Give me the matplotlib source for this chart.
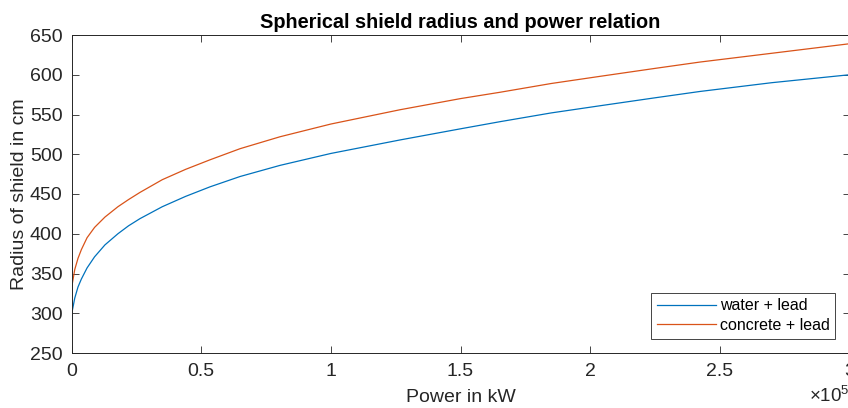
import numpy as np
import matplotlib
matplotlib.use('Agg')
import matplotlib.pyplot as plt
from matplotlib.ticker import FuncFormatter

# values
power_kw = [0, 300, 1250, 2500, 3800, 6000, 8900, 12900, 17900, 22000,
            26400, 35000, 44000, 53400, 65000, 80400, 100000, 126700,
            150000, 165300, 185000, 203800, 225000, 242400, 270000, 300000]
r_water = [287, 303, 319, 333, 343, 357, 371, 386, 400, 410,
           419, 434, 447, 459, 472, 486, 501, 518,
           532, 541, 552, 561, 571, 579, 590, 600]
r_concrete = [321, 337, 355, 369, 380, 395, 408, 421, 434, 443,
              452, 468, 481, 493, 507, 522, 538, 556,
              570, 578, 589, 598, 608, 616, 627, 639]
labels = ['water + lead', 'concrete + lead']

plt.rcParams['font.family'] = ['Liberation Sans', 'DejaVu Sans']
plt.rcParams['mathtext.fontset'] = 'custom'
plt.rcParams['mathtext.rm'] = 'Liberation Sans'

dark = '#262626'
fig = plt.figure(figsize=(8.48, 4.08), dpi=100)
ax = fig.add_axes([71.5/848, 1-353/408, 778/848, 318/408])

ax.plot(power_kw, r_water, color='#0072BD', lw=0.9, label=labels[0])
ax.plot(power_kw, r_concrete, color='#D95319', lw=0.9, label=labels[1])

ax.set_xlim(0, 300000)
ax.set_ylim(250, 650)
ax.set_xticks(np.arange(0, 300001, 50000))
ax.set_yticks(np.arange(250, 651, 50))
ax.xaxis.set_major_formatter(FuncFormatter(lambda v, p: f'{v/1e5:g}'))

ax.tick_params(direction='in', length=5, width=0.6, color=dark, labelcolor=dark,
               labelsize=14, top=True, right=True)
ax.tick_params(axis='y', pad=6.5)
ax.tick_params(axis='x', pad=7)
for s in ax.spines.values():
    s.set_color(dark)
    s.set_linewidth(0.7)

# exponent label, as matlab draws it under the right end of the axis
fig.text(809/848, 0.006, r'$\times\mathdefault{10^{5}}$', fontsize=13.5, color=dark,
         ha='left', va='bottom')

ax.set_xlabel('Power in kW', fontsize=14, color=dark, labelpad=7)
ax.set_ylabel('Radius of shield in cm', fontsize=14, color=dark, labelpad=1.5)
ax.set_title('Spherical shield radius and power relation', fontsize=14.3,
             fontweight='bold', color='black', pad=5)

leg = ax.legend(loc='lower right', fontsize=11.5, fancybox=False, framealpha=1,
                edgecolor=dark, borderaxespad=0.9, handlelength=3.7,
                handletextpad=0.25, labelspacing=0.3, borderpad=0.35)
leg.get_frame().set_linewidth(0.6)

fig.savefig('out.png', dpi=100)
